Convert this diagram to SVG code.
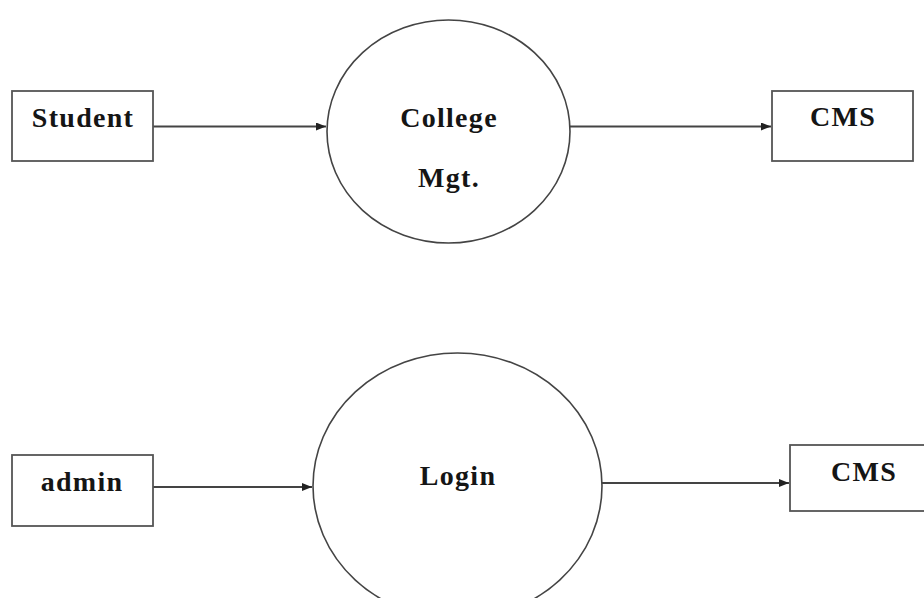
<svg xmlns="http://www.w3.org/2000/svg" width="924" height="598" viewBox="0 0 924 598">
<style>
.box{fill:#fff;stroke:#555;stroke-width:1.8}
.proc{fill:#fff;stroke:#444;stroke-width:1.6}
.lbl{font-family:"Liberation Serif","Times New Roman",serif;font-weight:bold;font-size:28px;letter-spacing:1.3px;fill:#151515;text-anchor:middle}
.flow{fill:none;stroke:#444;stroke-width:1.8}
</style>
<defs>
<marker id="arr" viewBox="0 0 10 8" refX="10" refY="4" markerWidth="10" markerHeight="8" markerUnits="userSpaceOnUse" orient="auto">
<path d="M0,0 L10,4 L0,8 Z" fill="#222"/>
</marker>
</defs>
<rect width="924" height="598" fill="#fff"/>
<g id="connectors">
<line class="flow" x1="153" y1="126.5" x2="326" y2="126.5" marker-end="url(#arr)"/>
<line class="flow" x1="570" y1="126.5" x2="771" y2="126.5" marker-end="url(#arr)"/>
<line class="flow" x1="153" y1="487" x2="312" y2="487" marker-end="url(#arr)"/>
<line class="flow" x1="602" y1="483" x2="789" y2="483" marker-end="url(#arr)"/>
</g>
<g id="student">
<rect class="box" x="12" y="91" width="141" height="70"/>
<text class="lbl" x="83" y="127">Student</text>
</g>
<g id="college-mgt">
<ellipse class="proc" cx="448.5" cy="131.5" rx="121.5" ry="111.5"/>
<text class="lbl" x="449" y="127">College</text>
<text class="lbl" x="449" y="187">Mgt.</text>
</g>
<g id="cms1">
<rect class="box" x="772" y="91" width="141" height="70"/>
<text class="lbl" x="843" y="126">CMS</text>
</g>
<g id="admin">
<rect class="box" x="12" y="455" width="141" height="71"/>
<text class="lbl" x="82" y="491">admin</text>
</g>
<g id="login">
<ellipse class="proc" cx="457.5" cy="486" rx="144.5" ry="133"/>
<text class="lbl" x="458" y="485">Login</text>
</g>
<g id="cms2">
<rect class="box" x="790" y="445" width="145" height="66"/>
<text class="lbl" x="864" y="481">CMS</text>
</g>
</svg>
